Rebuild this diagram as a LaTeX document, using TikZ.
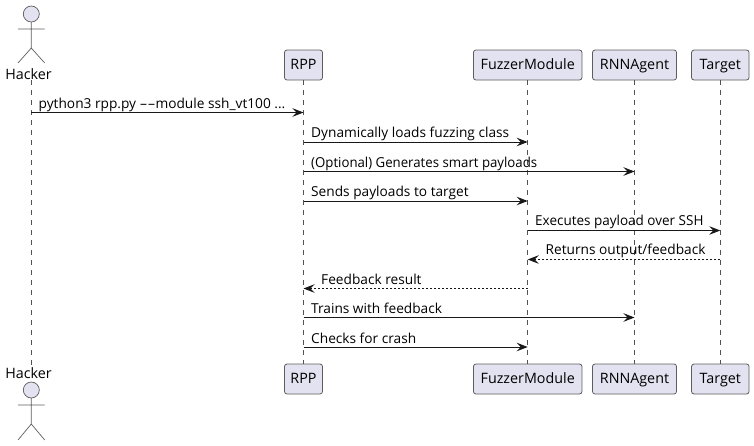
\documentclass[tikz,border=0pt]{standalone}
\usepackage{fontspec}
\setmainfont{Open Sans}
\usetikzlibrary{arrows.meta}
\definecolor{pfill}{HTML}{E2E2F0}
\definecolor{pline}{HTML}{181818}
\newcommand{\longhy}{\scalebox{1.8}[1]{-}}
\begin{document}
\begin{tikzpicture}[x=1pt,y=-1pt,
  font=\fontsize{13.7}{15}\selectfont,
  part/.style={draw=pline!70,fill=pfill,line width=0.8pt,rounded corners=2.5pt,minimum height=30pt,inner xsep=0pt,inner ysep=0pt,text height=11pt,text depth=2.5pt,text=black,font=\fontsize{14.3}{16}\selectfont},
  life/.style={draw=pline!75,line width=0.6pt,dash pattern=on 5pt off 5pt},
  msg/.style={draw=pline,line width=1pt,-{Stealth[length=11pt,width=8.5pt,inset=4pt]}},
  rep/.style={msg,dash pattern=on 2pt off 2pt},
  lab/.style={anchor=base west,inner sep=0pt,text=black},
  act/.style={draw=pline!70,line width=0.7pt},
  actor/.style={anchor=center,inner sep=0pt,text=black,font=\fontsize{14.3}{16}\selectfont}]
\useasboundingbox (0,0) rectangle (754,445);
% participant boxes, top
\node[part,minimum width=38pt] (rppT) at (303.5,65) {RPP};
\node[part,minimum width=108.5pt] (fuzT) at (527.7,65) {FuzzerModule};
\node[part,minimum width=84pt] (rnnT) at (634.5,65) {RNNAgent};
\node[part,minimum width=57.5pt] (tarT) at (720.3,65) {Target};
% participant boxes, bottom
\node[part,minimum width=38pt] (rppB) at (303.5,379) {RPP};
\node[part,minimum width=108.5pt] (fuzB) at (527.7,379) {FuzzerModule};
\node[part,minimum width=84pt] (rnnB) at (634.5,379) {RNNAgent};
\node[part,minimum width=57.5pt] (tarB) at (720.3,379) {Target};
% actor
\node[actor] (hakT) at (28.5,74) {Hacker};
\node[actor] (hakB) at (28.5,373) {Hacker};
\draw[act,fill=pfill] (31.3,14) circle (8pt);
\draw[act] (31.3,22) -- (31.3,48) (18,29) -- (44.7,29) (18,63) -- (31.3,48) -- (44.7,63);
\draw[act,fill=pfill] (31.3,390) circle (8pt);
\draw[act] (31.3,398) -- (31.3,424) (18,405) -- (44.7,405) (18,440) -- (31.3,424) -- (44.7,440);
% lifelines
\coordinate (hakU) at (31.3,80);
\coordinate (hakD) at (31.3,368);
\draw[life] (hakU) -- (hakD);
\draw[life] (rppT) -- (rppB);
\draw[life] (fuzT) -- (fuzB);
\draw[life] (rnnT) -- (rnnB);
\draw[life] (tarT) -- (tarB);
% message rows
\coordinate (y1) at (0,112.5);
\coordinate (y2) at (0,142);
\coordinate (y3) at (0,171.5);
\coordinate (y4) at (0,201);
\coordinate (y5) at (0,230.5);
\coordinate (y6) at (0,259.5);
\coordinate (y7) at (0,288.5);
\coordinate (y8) at (0,317.5);
\coordinate (y9) at (0,347);
\draw[msg] (hakU |- y1) -- (rppT |- y1);
\draw[msg] (rppT |- y2) -- (fuzT |- y2);
\draw[msg] (rppT |- y3) -- (rnnT |- y3);
\draw[msg] (rppT |- y4) -- (fuzT |- y4);
\draw[msg] (fuzT |- y5) -- (tarT |- y5);
\draw[rep] (tarT |- y6) -- (fuzT |- y6);
\draw[rep] (fuzT |- y7) -- (rppT |- y7);
\draw[msg] (rppT |- y8) -- (rnnT |- y8);
\draw[msg] (rppT |- y9) -- (fuzT |- y9);
% labels
\node[lab] (l1) at (38.5,108) {python3 rpp.py \longhy\longhy module ssh\_vt100 ...};
\node[lab] (l2) at (311,137) {Dynamically loads fuzzing class};
\node[lab] (l3) at (311,167) {\scalebox{.965}[1]{(Optional) Generates smart payloads}};
\node[lab] (l4) at (311,196) {Sends payloads to target};
\node[lab] (l5) at (535,225) {\scalebox{.985}[1]{Executes payload over SSH}};
\node[lab] (l6) at (545.5,254.5) {Returns output/feedback};
\node[lab] (l7) at (321,284) {Feedback result};
\node[lab] (l8) at (311,313) {Trains with feedback};
\node[lab] (l9) at (311,343) {Checks for crash};
\end{tikzpicture}
\end{document}
